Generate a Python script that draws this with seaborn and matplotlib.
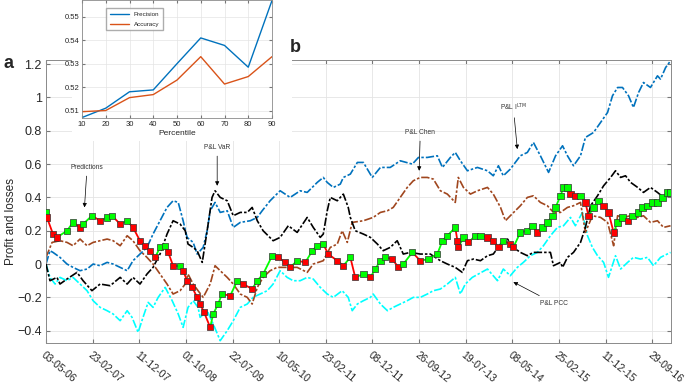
import matplotlib
matplotlib.use("Agg")
import matplotlib.pyplot as plt
from matplotlib.patches import Rectangle
import seaborn as sns

# ---- inset data (panel a) ----
percentile = [10, 20, 30, 40, 50, 60, 70, 80, 90]
precision = [0.507, 0.511, 0.518, 0.5188, 0.530, 0.541, 0.5378, 0.5285, 0.557]
accuracy = [0.5095, 0.510, 0.5155, 0.5168, 0.523, 0.533, 0.5213, 0.5245, 0.533]

# ---- main panel (b): trading day index -> cumulative P&L ----
date_ticks = [0, 200, 400, 600, 800, 1000, 1200, 1400, 1600, 1800, 2000, 2200, 2400, 2600]
date_labels = ['03-05-06', '23-02-07', '11-12-07', '01-10-08', '22-07-09', '10-05-10', '23-02-11',
               '08-12-11', '26-09-12', '19-07-13', '08-05-14', '25-02-15', '11-12-15', '29-09-16']

ltm_day = [0, 17, 30, 60, 90, 116, 146, 176, 202, 232, 262, 288, 318, 348, 373, 403, 433, 459, 489, 519,
           545, 567, 588, 605, 631, 648, 674, 691, 704, 725, 747, 777, 803, 833, 876, 906, 927, 961, 1004,
           1047, 1090, 1120, 1163, 1189, 1206, 1232, 1262, 1275, 1305, 1335, 1361, 1399, 1434, 1476, 1519,
           1571, 1597, 1635, 1678, 1700, 1734, 1755, 1777, 1807, 1850, 1893, 1918, 1940, 1961, 1991, 2034,
           2064, 2090, 2120, 2155, 2185, 2215, 2236, 2262, 2292, 2313, 2348, 2378, 2408, 2429, 2451, 2472,
           2498, 2519, 2541, 2562, 2592, 2622, 2635, 2657, 2678]
ltm_pl = [0.0, 0.08, 0.07, 0.04, 0.0, -0.02, -0.04, -0.03, 0.0, -0.01, 0.01, 0.0, -0.02, -0.04, 0.02, 0.06,
          0.10, 0.18, 0.26, 0.34, 0.38, 0.37, 0.26, 0.16, 0.13, 0.06, 0.10, 0.20, 0.32, 0.37, 0.31, 0.32,
          0.22, 0.25, 0.26, 0.28, 0.32, 0.38, 0.44, 0.40, 0.44, 0.43, 0.49, 0.52, 0.49, 0.46, 0.48, 0.52,
          0.54, 0.61, 0.61, 0.52, 0.58, 0.58, 0.62, 0.60, 0.64, 0.64, 0.65, 0.58, 0.64, 0.67, 0.62, 0.56,
          0.58, 0.56, 0.53, 0.59, 0.53, 0.57, 0.65, 0.67, 0.73, 0.65, 0.55, 0.65, 0.71, 0.65, 0.59, 0.65,
          0.76, 0.79, 0.85, 0.91, 1.01, 1.06, 1.06, 1.01, 0.94, 1.03, 1.09, 1.06, 1.13, 1.11, 1.18, 1.22]

var_day = [0, 17, 47, 60, 90, 133, 159, 197, 232, 275, 318, 348, 373, 403, 433, 459, 489, 519, 545, 575,
           597, 609, 631, 648, 670, 691, 712, 725, 747, 777, 803, 833, 863, 884, 906, 931, 974, 1004, 1039,
           1077, 1120, 1146, 1176, 1189, 1206, 1219, 1249, 1275, 1296, 1305, 1326, 1361, 1391, 1421, 1446,
           1476, 1506, 1532, 1562, 1605, 1648, 1691, 1721, 1755, 1785, 1807, 1833, 1863, 1893, 1918, 1949,
           1979, 2004, 2034, 2064, 2090, 2133, 2163, 2176, 2206, 2215, 2236, 2262, 2292, 2313, 2335, 2365,
           2391, 2421, 2442, 2464, 2485, 2507, 2537, 2562, 2592, 2622, 2648, 2678]
var_pl = [0.0, -0.10, -0.08, -0.12, -0.09, -0.05, -0.10, -0.16, -0.12, -0.13, -0.08, -0.12, -0.08, -0.12,
          -0.06, -0.02, 0.06, 0.18, 0.26, 0.24, 0.20, 0.12, 0.10, 0.08, 0.01, 0.20, 0.40, 0.44, 0.40, 0.38,
          0.29, 0.31, 0.31, 0.34, 0.26, 0.20, 0.14, 0.16, 0.23, 0.19, 0.28, 0.22, 0.16, 0.18, 0.32, 0.40,
          0.38, 0.42, 0.34, 0.28, 0.20, 0.18, 0.16, 0.12, 0.08, 0.10, 0.14, 0.06, 0.07, 0.06, 0.06, 0.02,
          0.0, -0.02, -0.05, 0.02, 0.03, 0.02, 0.05, 0.06, 0.12, 0.15, 0.10, 0.07, 0.05, 0.07, 0.07, 0.07,
          -0.01, 0.01, -0.02, 0.04, 0.07, 0.13, 0.22, 0.35, 0.41, 0.47, 0.52, 0.56, 0.52, 0.53, 0.49, 0.46,
          0.43, 0.46, 0.43, 0.40, 0.42]

chen_day = [0, 26, 60, 90, 116, 146, 176, 202, 232, 262, 288, 318, 348, 373, 403, 433, 459, 489, 519, 545,
            575, 597, 609, 631, 652, 674, 704, 725, 747, 777, 803, 833, 863, 884, 906, 931, 961, 991, 1034,
            1077, 1120, 1146, 1189, 1219, 1249, 1270, 1292, 1313, 1361, 1403, 1434, 1464, 1489, 1519, 1549,
            1575, 1605, 1635, 1661, 1691, 1721, 1755, 1768, 1790, 1820, 1850, 1893, 1918, 1949, 1970, 1991,
            2034, 2064, 2090, 2120, 2150, 2176, 2206, 2236, 2262, 2292, 2313, 2343, 2378, 2408, 2434, 2451,
            2476, 2507, 2537, 2562, 2592, 2622, 2648, 2678]
chen_pl = [0.04, 0.13, 0.14, 0.13, 0.11, 0.15, 0.11, 0.13, 0.14, 0.15, 0.14, 0.11, 0.17, 0.14, 0.08, 0.04,
           0.0, -0.06, -0.12, -0.18, -0.16, -0.12, -0.06, -0.12, -0.16, -0.20, -0.12, -0.01, -0.04, -0.08,
           -0.12, -0.18, -0.20, -0.24, -0.14, -0.08, -0.04, -0.02, -0.02, -0.02, -0.05, 0.0, 0.02, 0.10,
           0.12, 0.20, 0.13, 0.25, 0.26, 0.28, 0.31, 0.32, 0.34, 0.40, 0.46, 0.50, 0.52, 0.52, 0.51, 0.44,
           0.42, 0.37, 0.52, 0.46, 0.42, 0.44, 0.46, 0.42, 0.34, 0.26, 0.29, 0.35, 0.40, 0.41, 0.37, 0.35,
           0.31, 0.31, 0.34, 0.35, 0.37, 0.19, 0.29, 0.28, 0.25, 0.11, 0.29, 0.28, 0.29, 0.28, 0.29, 0.25,
           0.26, 0.22, 0.23]

pcc_day = [0, 17, 39, 60, 90, 116, 146, 176, 202, 232, 262, 288, 318, 348, 369, 395, 416, 438, 459, 481,
           511, 541, 567, 588, 609, 631, 652, 661, 691, 717, 747, 777, 803, 833, 863, 888, 918, 949, 974,
           1004, 1034, 1060, 1090, 1120, 1146, 1176, 1206, 1232, 1270, 1296, 1313, 1335, 1361, 1391, 1403,
           1434, 1464, 1489, 1519, 1549, 1575, 1605, 1635, 1661, 1691, 1721, 1755, 1777, 1798, 1828, 1854,
           1893, 1936, 1961, 1991, 2021, 2047, 2077, 2107, 2133, 2163, 2193, 2219, 2249, 2270, 2300, 2322,
           2343, 2365, 2391, 2412, 2442, 2464, 2494, 2519, 2549, 2579, 2605, 2635, 2678]
pcc_pl = [0.0, -0.08, -0.12, -0.08, -0.10, -0.08, -0.12, -0.16, -0.22, -0.26, -0.28, -0.30, -0.34, -0.28,
          -0.32, -0.41, -0.32, -0.23, -0.26, -0.20, -0.14, -0.22, -0.30, -0.38, -0.26, -0.22, -0.26, -0.32,
          -0.28, -0.36, -0.46, -0.40, -0.34, -0.26, -0.24, -0.20, -0.18, -0.16, -0.12, -0.04, -0.08, -0.10,
          -0.10, -0.08, -0.09, -0.14, -0.18, -0.20, -0.16, -0.20, -0.28, -0.24, -0.22, -0.20, -0.18, -0.24,
          -0.28, -0.26, -0.24, -0.22, -0.20, -0.20, -0.18, -0.16, -0.15, -0.12, -0.08, -0.18, -0.12, -0.08,
          -0.06, -0.03, -0.10, -0.03, -0.07, -0.02, 0.01, 0.05, 0.07, 0.11, 0.17, 0.22, 0.23, 0.28, 0.23,
          0.31, 0.17, 0.10, 0.05, 0.01, -0.08, 0.05, -0.03, 0.01, 0.04, 0.03, 0.04, -0.01, 0.04, 0.07]

pred_day = [0, 4, 30, 47, 90, 116, 146, 159, 197, 232, 262, 283, 318, 348, 373, 403, 425, 446, 468, 489,
            511, 524, 545, 575, 588, 605, 627, 648, 661, 678, 704, 717, 738, 755, 790, 820, 846, 884, 906,
            931, 970, 996, 1026, 1047, 1077, 1112, 1142, 1163, 1189, 1210, 1249, 1275, 1305, 1326, 1361,
            1391, 1412, 1434, 1455, 1485, 1511, 1532, 1571, 1605, 1640, 1678, 1700, 1721, 1755, 1764, 1768,
            1790, 1811, 1841, 1863, 1893, 1918, 1940, 1961, 1991, 2004, 2034, 2064, 2086, 2107, 2129, 2150,
            2172, 2185, 2206, 2219, 2236, 2249, 2270, 2292, 2313, 2326, 2348, 2369, 2391, 2412, 2434, 2451,
            2472, 2494, 2515, 2537, 2558, 2579, 2601, 2622, 2644, 2665, 2678]
pred_pl = [0.31, 0.28, 0.18, 0.16, 0.20, 0.25, 0.22, 0.24, 0.29, 0.26, 0.28, 0.29, 0.24, 0.26, 0.22, 0.14,
           0.11, 0.08, 0.04, 0.10, 0.11, 0.07, -0.01, -0.01, -0.04, -0.10, -0.14, -0.20, -0.24, -0.29, -0.38,
           -0.30, -0.24, -0.18, -0.19, -0.10, -0.12, -0.15, -0.10, -0.06, 0.05, 0.04, 0.01, -0.02, 0.02,
           0.01, 0.08, 0.11, 0.12, 0.06, 0.02, -0.01, 0.04, -0.08, -0.06, -0.08, -0.03, 0.02, 0.04, 0.03,
           -0.02, 0.0, 0.07, 0.02, 0.03, 0.06, 0.14, 0.17, 0.22, 0.14, 0.10, 0.16, 0.13, 0.17, 0.17, 0.16,
           0.14, 0.10, 0.14, 0.12, 0.10, 0.19, 0.20, 0.23, 0.19, 0.22, 0.25, 0.29, 0.34, 0.41, 0.46, 0.46,
           0.42, 0.41, 0.41, 0.37, 0.29, 0.34, 0.38, 0.35, 0.31, 0.19, 0.25, 0.28, 0.26, 0.29, 0.31, 0.34,
           0.35, 0.37, 0.37, 0.40, 0.43, 0.43]

sns.set_style("ticks")
plt.rcParams['font.family'] = ['Liberation Sans', 'DejaVu Sans']

fig = plt.figure(figsize=(6.85, 3.84), dpi=100)
ax = fig.add_axes([46 / 685, 1 - 343 / 384, 625 / 685, 283 / 384])

# P&L lines (MATLAB-like dash-dot)
dashdot = (0, (5, 1.2, 1.5, 1.2))
sns.lineplot(x=pcc_day, y=pcc_pl, ax=ax, color='#00FFFF', lw=1.2, linestyle=dashdot, zorder=2)
sns.lineplot(x=chen_day, y=chen_pl, ax=ax, color='#A0461E', lw=1.2, linestyle=dashdot, zorder=2)
sns.lineplot(x=ltm_day, y=ltm_pl, ax=ax, color='#0072BD', lw=1.2, linestyle=dashdot, zorder=2)
sns.lineplot(x=var_day, y=var_pl, ax=ax, color='black', lw=1.2, linestyle=dashdot, zorder=3)

# predictions: green when going up, red when going down
pred_dir = ['up'] + ['up' if pred_pl[i] >= pred_pl[i - 1] else 'down' for i in range(1, len(pred_pl))]
dir_colors = {'up': '#00FF00', 'down': '#FF0000'}
for i in range(1, len(pred_day)):
    ax.plot(pred_day[i - 1:i + 1], pred_pl[i - 1:i + 1], color=dir_colors[pred_dir[i]], lw=1.3, zorder=4)
sns.scatterplot(x=pred_day, y=pred_pl, hue=pred_dir, palette=dir_colors, marker='s', s=20,
                edgecolor='#333333', linewidth=0.5, ax=ax, legend=False, zorder=5)

ax.set_xlim(0, 2680)
ax.set_ylim(-0.474, 1.225)
ax.set_xticks(date_ticks)
ax.set_xticklabels(date_labels, rotation=-40, ha='left', va='top', rotation_mode='anchor', fontsize=7.5)
ax.set_yticks([-0.4, -0.2, 0, 0.2, 0.4, 0.6, 0.8, 1.0, 1.2])
ax.set_yticklabels(['\u22120.4', '\u22120.2', '0', '0.2', '0.4', '0.6', '0.8', '1', '1.2'], fontsize=9)
ax.tick_params(direction='in', length=3, top=True, right=True, color='#777777', labelcolor='#262626', pad=3)
ax.tick_params(axis='x', pad=5)
ax.grid(True, color='#e4e4e4', lw=0.6)
ax.set_axisbelow(True)
for s in ax.spines.values():
    s.set_visible(True)
    s.set_color('#8a8a8a')
    s.set_linewidth(0.7)
ax.set_xlabel('')
ax.set_ylabel('Profit and losses', fontsize=8.5, color='#262626')
ax.yaxis.set_label_coords(-0.047, 0.43)

# annotations
arrow = dict(arrowstyle='-|>', color='black', lw=0.5, mutation_scale=6, shrinkA=1, shrinkB=0)
note = dict(fontsize=4.8, color='#333333', ha='center', va='center')
ax.annotate('Predictions', xy=(165, 0.34), xytext=(176, 0.577), arrowprops=arrow, **note)
ax.annotate('P&L VaR', xy=(734, 0.47), xytext=(734, 0.697), arrowprops=arrow, **note)
ax.annotate('P&L Chen', xy=(1600, 0.56), xytext=(1605, 0.787), arrowprops=arrow, **note)
ax.annotate('P&L I$^{\\mathrm{LTM}}$', xy=(2021, 0.69), xytext=(2004, 0.94), arrowprops=arrow, **note)
ax.annotate('P&L PCC', xy=(2004, -0.108), xytext=(2176, -0.234), arrowprops=arrow, **note)

# white backdrop behind the inset (covers part of panel b)
fig.add_artist(Rectangle((72 / 685, 1 - 141 / 384), 220 / 685, 141 / 384, transform=fig.transFigure,
                         facecolor='white', edgecolor='none', zorder=1))

axin = fig.add_axes([82 / 685, 1 - 118 / 384, 190 / 685, 118 / 384], zorder=2)
sns.lineplot(x=percentile, y=precision, ax=axin, color='#0072BD', lw=1.0, label='Precision')
sns.lineplot(x=percentile, y=accuracy, ax=axin, color='#D95319', lw=1.0, label='Accuracy')
axin.set_xlim(10, 90)
axin.set_ylim(0.5068, 0.5572)
axin.set_xticks(percentile)
axin.set_yticks([0.51, 0.52, 0.53, 0.54, 0.55])
axin.set_yticklabels(['0.51', '0.52', '0.53', '0.54', '0.55'])
axin.tick_params(direction='in', length=2, labelsize=5.5, top=True, right=True, color='#777777',
                 labelcolor='#262626', pad=2)
axin.grid(True, color='#e4e4e4', lw=0.5)
for s in axin.spines.values():
    s.set_visible(True)
    s.set_color('#8a8a8a')
    s.set_linewidth(0.6)
axin.set_xlabel('Percentile', fontsize=6, color='#262626', labelpad=1.5)
axin.set_ylabel('')
axin.legend(loc='upper left', fontsize=4.5, frameon=True, fancybox=False, edgecolor='#999999',
            handlelength=3.0, borderpad=0.6, labelspacing=0.7, bbox_to_anchor=(0.11, 0.96))

fig.text(3 / 685, 1 - 68 / 384, 'a', fontsize=13, weight='bold', va='baseline')
fig.text(290 / 685, 1 - 52 / 384, 'b', fontsize=13, weight='bold', va='baseline')

fig.savefig('out.png', dpi=100)
